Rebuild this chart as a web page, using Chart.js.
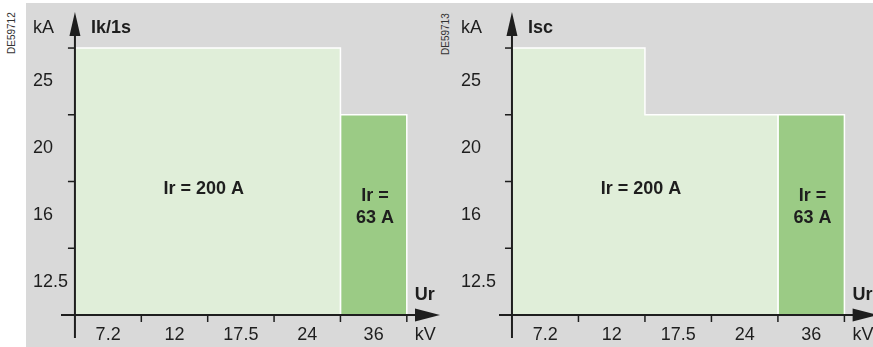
<!DOCTYPE html>
<html>
<head>
<meta charset="utf-8">
<script src="https://cdn.jsdelivr.net/npm/chart.js@4.4.0/dist/chart.umd.min.js"></script>
<style>
  body { margin: 0; background: #fff; width: 873px; height: 347px; overflow: hidden; position: relative; font-family: "Liberation Sans", Arial, sans-serif; }
  #bg { position: absolute; left: 26px; top: 3px; width: 847px; height: 344px; background: #d9d9d9; }
  canvas { position: absolute; left: 0; top: 0; }
  .ref { position: absolute; font-size: 10px; color: #333; transform: rotate(-90deg); transform-origin: left top; white-space: nowrap; }
</style>
</head>
<body>
<div id="bg"></div>
<div class="ref" style="left:6px; top:54px;">DE59712</div>
<div class="ref" style="left:440px; top:55px;">DE59713</div>
<canvas id="left" width="873" height="347"></canvas>
<canvas id="right" width="873" height="347"></canvas>
<script>
// rated voltage (kV) and short-circuit levels (kA)
const voltages = ['7.2', '12', '17.5', '24', '36'];
const kaLevels = [12.5, 16, 20, 25];

// Ik/1s - max kA per voltage
const ik1s200 = [25, 25, 25, 25, null];
const ik1s63 = [null, null, null, null, 20];

// Isc - max kA per voltage
const isc200 = [25, 25, 20, 20, null];
const isc63 = [null, null, null, null, 20];

const lightGreen = '#e0eed9';
const darkGreen = '#9bcb85';
const ink = '#1e1e1e';

// turn per-voltage values into a step outline on the band scales
function stepPoints(values) {
    const pts = [];
    let last = -1;
    values.forEach((v, i) => {
        if (v == null) return;
        const h = kaLevels.indexOf(v) + 1;
        if (!pts.length) pts.push({x: i, y: 0});
        pts.push({x: i, y: h}, {x: i + 1, y: h});
        last = i;
    });
    pts.push({x: last + 1, y: 0});
    return pts;
}

function area(values, color) {
    return {
        data: stepPoints(values),
        showLine: true,
        fill: 'origin',
        backgroundColor: color,
        borderColor: '#ffffff',
        borderWidth: 1.5,
        pointRadius: 0,
        tension: 0
    };
}

// axes with arrows, band ticks and labels
const axesPlugin = {
    id: 'axes',
    afterDatasetsDraw(chart, args, opts) {
        const ctx = chart.ctx;
        const xs = chart.scales.x, ys = chart.scales.y;
        const x0 = xs.getPixelForValue(0), y0 = ys.getPixelForValue(0);
        const area = chart.chartArea;
        ctx.save();
        ctx.strokeStyle = ink;
        ctx.fillStyle = ink;

        // y axis
        ctx.lineWidth = 2;
        ctx.beginPath();
        ctx.moveTo(x0, area.bottom);
        ctx.lineTo(x0, area.top + 20);
        ctx.stroke();
        ctx.beginPath();
        ctx.moveTo(x0, area.top);
        ctx.lineTo(x0 - 5.5, area.top + 24);
        ctx.lineTo(x0 + 5.5, area.top + 24);
        ctx.closePath();
        ctx.fill();

        // x axis
        ctx.beginPath();
        ctx.moveTo(area.left, y0);
        ctx.lineTo(area.right - 20, y0);
        ctx.stroke();
        const tip = xs.getPixelForValue(5.5);
        ctx.beginPath();
        ctx.moveTo(tip, y0);
        ctx.lineTo(tip - 25, y0 - 6.5);
        ctx.lineTo(tip - 25, y0 + 6.5);
        ctx.closePath();
        ctx.fill();

        // ticks on band edges
        ctx.lineWidth = 1.5;
        for (let j = 1; j <= kaLevels.length; j++) {
            const y = ys.getPixelForValue(j);
            ctx.beginPath();
            ctx.moveTo(x0 - 7, y);
            ctx.lineTo(x0, y);
            ctx.stroke();
        }
        for (let i = 1; i <= voltages.length; i++) {
            const x = xs.getPixelForValue(i);
            ctx.beginPath();
            ctx.moveTo(x, y0);
            ctx.lineTo(x, y0 + 7);
            ctx.stroke();
        }

        // tick labels
        ctx.font = '18px "Liberation Sans", Arial, sans-serif';
        ctx.textBaseline = 'middle';
        ctx.textAlign = 'left';
        kaLevels.forEach((v, j) => {
            ctx.fillText(String(v), opts.labelX, ys.getPixelForValue(j + 0.5));
        });
        ctx.fillText('kA', opts.labelX, 28);
        ctx.textAlign = 'center';
        voltages.forEach((v, i) => {
            ctx.fillText(v, xs.getPixelForValue(i + 0.5), y0 + 20);
        });
        const xEnd = xs.getPixelForValue(voltages.length) + 8;
        ctx.textAlign = 'left';
        ctx.fillText('kV', xEnd, y0 + 20);

        ctx.font = 'bold 18px "Liberation Sans", Arial, sans-serif';
        ctx.fillText(opts.title, x0 + 16, 28);
        ctx.fillText('Ur', xEnd, y0 - 20);

        // region labels
        ctx.textAlign = 'center';
        ctx.fillText('Ir = 200 A', xs.getPixelForValue(1.94), ys.getPixelForValue(1.88));
        const xb = xs.getPixelForValue(4.52);
        ctx.fillText('Ir =', xb, ys.getPixelForValue(1.78));
        ctx.fillText('63 A', xb, ys.getPixelForValue(1.46));
        ctx.restore();
    }
};

function makeChart(id, datasets, opts) {
    return new Chart(document.getElementById(id), {
        type: 'scatter',
        data: { datasets },
        options: {
            responsive: false,
            animation: false,
            events: [],
            layout: { padding: opts.padding },
            plugins: {
                legend: { display: false },
                tooltip: { enabled: false },
                axes: { title: opts.title, labelX: opts.labelX }
            },
            scales: {
                x: { type: 'linear', display: false, min: opts.xMin, max: opts.xMax },
                y: { type: 'linear', display: false, min: -0.345, max: 4.54 }
            }
        },
        plugins: [axesPlugin]
    });
}

makeChart('left', [area(ik1s200, lightGreen), area(ik1s63, darkGreen)], {
    title: 'Ik/1s', labelX: 33, xMin: -0.21, xMax: 5.5,
    padding: { left: 61, right: 433, top: 12, bottom: 9 }
});

makeChart('right', [area(isc200, lightGreen), area(isc63, darkGreen)], {
    title: 'Isc', labelX: 461, xMin: -0.195, xMax: 5.43,
    padding: { left: 499, right: 0, top: 12, bottom: 9 }
});
</script>
</body>
</html>
